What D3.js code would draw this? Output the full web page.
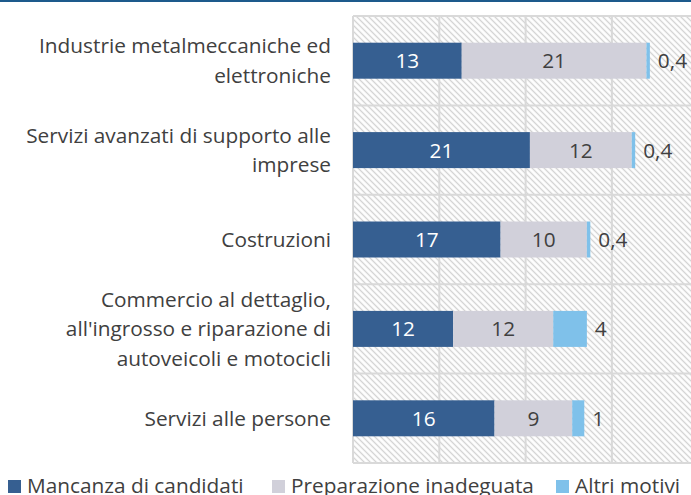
<!DOCTYPE html>
<html lang="it">
<head>
    <meta charset="UTF-8">
    <title>stacked bar</title>
    <script src="https://d3js.org/d3.v7.min.js"></script>
    <style>
        body { margin: 0; background: #fff; }
        svg { display: block; font-family: "Open Sans", sans-serif; }
    </style>
</head>
<body>
    <svg></svg>
    <script>
        const width = 691;
        const height = 495;

        // dati
        const categories = [
            "Industrie metalmeccaniche ed\nelettroniche",
            "Servizi avanzati di supporto alle\nimprese",
            "Costruzioni",
            "Commercio al dettaglio,\nall'ingrosso e riparazione di\nautoveicoli e motocicli",
            "Servizi alle persone"
        ];
        const seriesNames = ["Mancanza di candidati", "Preparazione inadeguata", "Altri motivi"];
        const mancanza = [12.6, 20.5, 17.1, 11.6, 16.4];
        const preparazione = [21.4, 11.8, 10.0, 11.6, 9.0];
        const altri = [0.4, 0.4, 0.4, 3.9, 1.4];
        const colors = ["#365f91", "#d1d0da", "#7fc1ea"];
        const xTicks = [0, 10, 20, 30, 40, 50];

        const margin = {left: 353, top: 16, bottom: 32};
        const w = 431.5;
        const h = height - margin.top - margin.bottom;
        const fs = 20.8;

        const svg = d3.select("svg")
            .attr("width", width)
            .attr("height", height);

        // linea blu in alto
        svg.append("rect")
            .attr("x", 0).attr("y", 0)
            .attr("width", width).attr("height", 2)
            .attr("fill", "#1d5a8c");

        // tratteggio (passo orizzontale di 6px)
        const ps = 6 / Math.SQRT2;
        const pat = svg.append("defs").append("pattern")
            .attr("id", "hatch")
            .attr("patternUnits", "userSpaceOnUse")
            .attr("width", ps).attr("height", ps)
            .attr("patternTransform", "rotate(45)");
        pat.append("rect").attr("width", ps).attr("height", ps).attr("fill", "#fff");
        pat.append("line")
            .attr("x1", 0).attr("y1", ps / 2).attr("x2", ps).attr("y2", ps / 2)
            .attr("stroke", "#d4d4d4").attr("stroke-width", 1.4);

        const x = d3.scaleLinear().domain([0, 50]).range([0, w]);
        const y = d3.scaleBand().domain(categories).range([0, h]).paddingInner(0).paddingOuter(0);

        const data = categories.map((c, i) => ({
            cat: c, m: mancanza[i], p: preparazione[i], a: altri[i]
        }));
        const stack = d3.stack().keys(["m", "p", "a"])(data);

        const g = svg.append("g")
            .attr("transform", `translate(${margin.left}, ${margin.top})`);

        g.append("rect")
            .attr("width", w).attr("height", h)
            .attr("fill", "url(#hatch)");

        // griglia
        g.selectAll(".vgrid")
            .data(xTicks)
            .enter().append("line")
                .attr("x1", d => x(d)).attr("x2", d => x(d))
                .attr("y1", 0).attr("y2", h)
                .attr("stroke", "#d9d9d9").attr("stroke-width", 2);

        const bounds = categories.map(c => y(c)).concat([h]);
        g.selectAll(".hgrid")
            .data(bounds)
            .enter().append("line")
                .attr("x1", 0).attr("x2", w)
                .attr("y1", d => d).attr("y2", d => d)
                .attr("stroke", "#d9d9d9").attr("stroke-width", 2);

        const barH = 36;
        const off = (y.bandwidth() - barH) / 2;

        // barre
        g.selectAll(".serie")
            .data(stack)
            .enter().append("g")
                .attr("fill", (d, i) => colors[i])
            .selectAll("rect")
            .data(d => d)
            .enter().append("rect")
                .attr("x", d => x(d[0]))
                .attr("y", d => y(d.data.cat) + off)
                .attr("width", d => x(d[1]) - x(d[0]))
                .attr("height", barH);

        const fmt = v => v < 1 ? d3.format(".1f")(v).replace(".", ",") : d3.format(".0f")(v);

        // etichette
        stack.forEach((s, i) => {
            g.selectAll(".lab" + i)
                .data(s)
                .enter().append("text")
                    .attr("x", d => i < 2 ? (x(d[0]) + x(d[1])) / 2 : x(d[1]) + 8)
                    .attr("y", d => y(d.data.cat) + y.bandwidth() / 2)
                    .attr("dy", "0.36em")
                    .attr("text-anchor", i < 2 ? "middle" : "start")
                    .attr("font-size", fs)
                    .attr("fill", i === 0 ? "#fff" : "#404040")
                    .text(d => fmt(d[1] - d[0]));
        });

        // categorie
        const lineH = 29.5;
        categories.forEach(c => {
            const lines = c.split("\n");
            const cy = margin.top + y(c) + y.bandwidth() / 2;
            const t = svg.append("text")
                .attr("text-anchor", "end")
                .attr("font-size", fs)
                .attr("fill", "#404040");
            lines.forEach((l, j) => {
                t.append("tspan")
                    .attr("x", 331)
                    .attr("y", cy + (j - (lines.length - 1) / 2) * lineH)
                    .attr("dy", "0.36em")
                    .text(l);
            });
        });

        // legenda
        const legX = [8, 272, 556];
        const leg = svg.append("g");
        seriesNames.forEach((n, i) => {
            leg.append("rect")
                .attr("x", legX[i]).attr("y", 480)
                .attr("width", 13).attr("height", 13)
                .attr("fill", colors[i]);
            leg.append("text")
                .attr("x", legX[i] + 19).attr("y", 493)
                .attr("font-size", fs)
                .attr("fill", "#404040")
                .text(n);
        });
    </script>
</body>
</html>
